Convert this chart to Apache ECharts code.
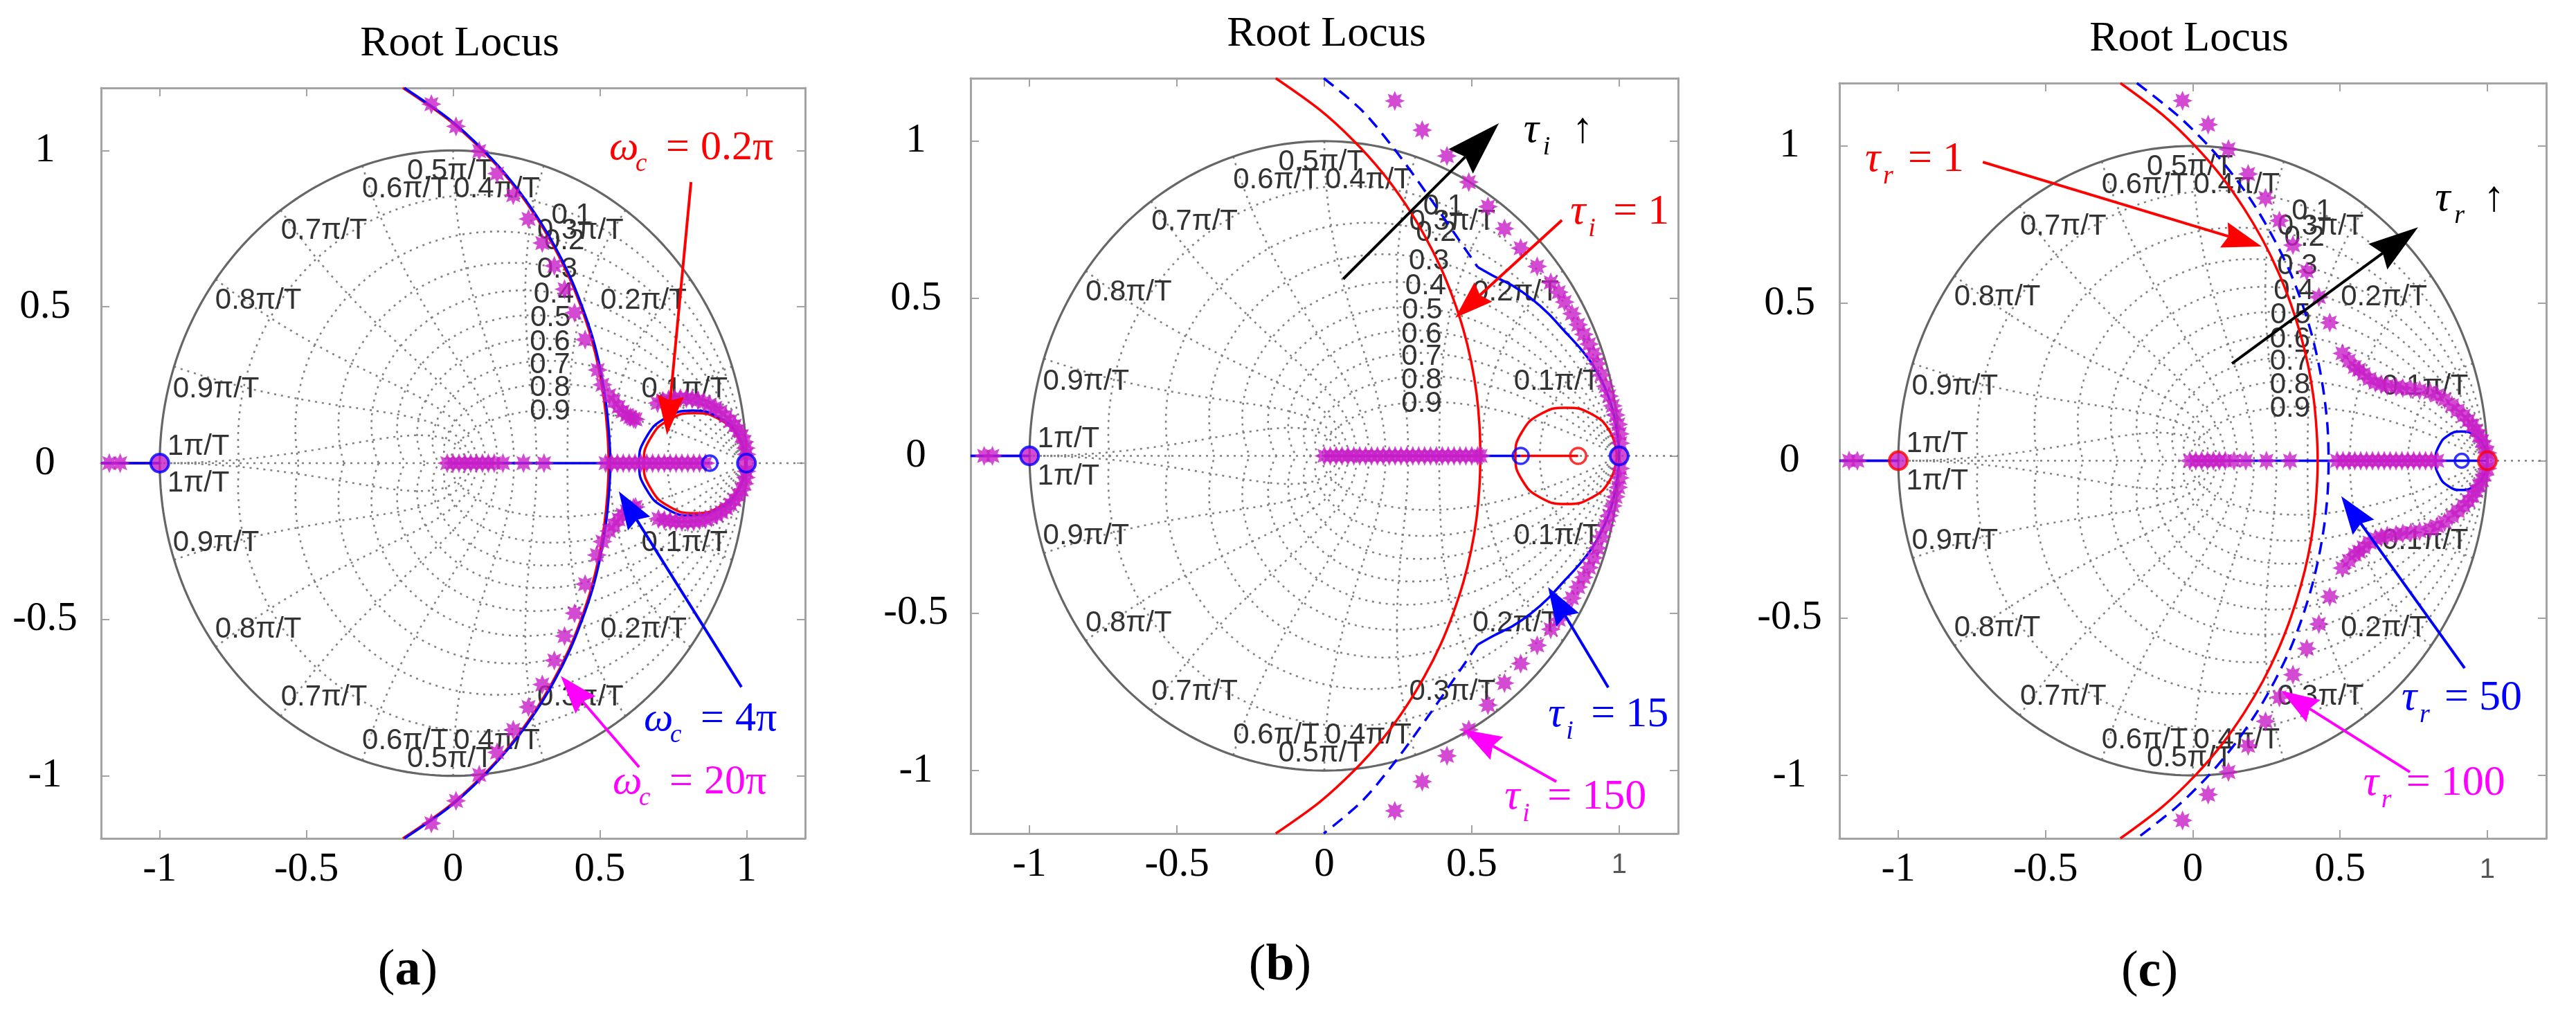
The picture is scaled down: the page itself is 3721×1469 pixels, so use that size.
<!DOCTYPE html>
<html>
<head>
<meta charset="utf-8">
<script src="https://cdn.jsdelivr.net/npm/echarts@6/dist/echarts.min.js"></script>
<style>
html,body{margin:0;padding:0;background:#ffffff;}
#chart{width:3721px;height:1469px;}
</style>
</head>
<body>
<div id="chart"></div>
<script>
// ================= DATA =================
const xTicks = [-1, -0.5, 0, 0.5, 1];
const yTicks = [-1, -0.5, 0, 0.5, 1];
const zetaVals = [0.1, 0.2, 0.3, 0.4, 0.5, 0.6, 0.7, 0.8, 0.9];
const wnVals = [0.1, 0.2, 0.3, 0.4, 0.5, 0.6, 0.7, 0.8, 0.9, 1.0];
const zetaLabels = ['0.1','0.2','0.3','0.4','0.5','0.6','0.7','0.8','0.9'];
const wnLabels = ['0.1π/T','0.2π/T','0.3π/T','0.4π/T','0.5π/T','0.6π/T','0.7π/T','0.8π/T','0.9π/T','1π/T'];
const panelTitles = ['Root Locus', 'Root Locus', 'Root Locus'];
const panelTags = ['a', 'b', 'c'];

// ---- panel (a) ----
const aRedArc = [[-0.171,1.2],[-0.018,1.1],[0.100,1.0],[0.196,0.9],[0.274,0.8],[0.339,0.7],[0.393,0.6],[0.436,0.5],[0.471,0.4],[0.497,0.3],[0.515,0.2],[0.526,0.1],[0.530,0],[0.526,-0.1],[0.515,-0.2],[0.497,-0.3],[0.471,-0.4],[0.436,-0.5],[0.393,-0.6],[0.339,-0.7],[0.274,-0.8],[0.196,-0.9],[0.100,-1.0],[-0.018,-1.1],[-0.171,-1.2]];
const aBlueArc = [[-0.166,1.2],[-0.013,1.1],[0.104,1.0],[0.200,0.9],[0.278,0.8],[0.343,0.7],[0.397,0.6],[0.440,0.5],[0.476,0.4],[0.502,0.3],[0.520,0.2],[0.531,0.1],[0.536,0],[0.531,-0.1],[0.520,-0.2],[0.502,-0.3],[0.476,-0.4],[0.440,-0.5],[0.397,-0.6],[0.343,-0.7],[0.278,-0.8],[0.200,-0.9],[0.104,-1.0],[-0.013,-1.1],[-0.166,-1.2]];
const aRedLoop = [[0.996,0],[0.973,0.080],[0.910,0.139],[0.823,0.160],[0.737,0.139],[0.673,0.080],[0.650,0],[0.673,-0.080],[0.737,-0.139],[0.823,-0.160],[0.910,-0.139],[0.973,-0.080],[0.996,0]];
const aBlueLoop = [[1.000,0],[0.975,0.084],[0.909,0.145],[0.817,0.168],[0.726,0.145],[0.659,0.084],[0.634,0],[0.659,-0.084],[0.726,-0.145],[0.817,-0.168],[0.909,-0.145],[0.975,-0.084],[1.000,0]];
const aRedAxis = [[[-1.2,0],[-1,0]]];
const aBlueAxis = [[[-1.2,0],[-1,0]], [[0,0],[0.875,0]]];
const aStarsFar = [[-1.172,0],[-1.135,0]];
const aStarsArc = [[-0.074,1.148],[0.010,1.077],[0.089,0.998],[0.150,0.926],[0.205,0.857],[0.257,0.781],[0.304,0.704],[0.345,0.631],[0.380,0.556],[0.414,0.481],[0.450,0.395],[0.493,0.298],[0.509,0.251],[0.532,0.217],[0.548,0.198],[0.564,0.180],[0.578,0.165],[0.592,0.154],[0.604,0.147],[0.615,0.142],[0.622,0.140],
  [-0.074,-1.152],[0.010,-1.080],[0.089,-0.997],[0.150,-0.925],[0.205,-0.853],[0.257,-0.780],[0.304,-0.708],[0.345,-0.631],[0.380,-0.553],[0.414,-0.480],[0.450,-0.387],[0.490,-0.294],[0.509,-0.251],[0.532,-0.217],[0.548,-0.198],[0.564,-0.180],[0.578,-0.165],[0.592,-0.154],[0.604,-0.147],[0.615,-0.142],[0.622,-0.140]];
const aStarsAxis = [[-0.02,0],[0,0],[0.02,0],[0.04,0],[0.06,0],[0.08,0],[0.10,0],[0.12,0],[0.14,0],[0.17,0],[0.24,0],[0.31,0],
  [0.52,0],[0.54,0],[0.56,0],[0.58,0],[0.60,0],[0.62,0],[0.64,0],[0.66,0],[0.68,0],[0.70,0],[0.72,0],[0.74,0],[0.76,0],[0.78,0],[0.80,0],[0.82,0],[0.84,0],[0.86,0]];
const aStarsLoop = [[0.697,0.192],[0.715,0.199],[0.735,0.204],[0.755,0.207],[0.775,0.208],[0.795,0.207],[0.815,0.205],[0.835,0.201],[0.855,0.195],[0.875,0.187],[0.894,0.177],[0.912,0.165],[0.930,0.150],[0.946,0.135],[0.960,0.120],[0.973,0.104],[0.984,0.087],[0.993,0.068],[0.998,0.048],[1.0,0.028],
  [0.700,-0.178],[0.720,-0.182],[0.740,-0.185],[0.760,-0.187],[0.780,-0.188],[0.800,-0.188],[0.820,-0.187],[0.840,-0.184],[0.860,-0.180],[0.880,-0.174],[0.898,-0.166],[0.915,-0.157],[0.931,-0.145],[0.946,-0.132],[0.960,-0.118],[0.973,-0.102],[0.984,-0.085],[0.993,-0.066],[0.998,-0.046],[1.0,-0.026]];
const aPoles = [[-1,0],[1,0]];
const aZerosBlue = [[0.875,0]];

// ---- panel (b) ----
const bRedArc = [[-0.165,1.2],[-0.016,1.1],[0.101,1.0],[0.197,0.9],[0.275,0.8],[0.340,0.7],[0.394,0.6],[0.437,0.5],[0.472,0.4],[0.498,0.3],[0.516,0.2],[0.526,0.1],[0.529,0],[0.526,-0.1],[0.516,-0.2],[0.498,-0.3],[0.472,-0.4],[0.437,-0.5],[0.394,-0.6],[0.340,-0.7],[0.275,-0.8],[0.197,-0.9],[0.101,-1.0],[-0.016,-1.1],[-0.165,-1.2]];
const bRedLoop = [[0.992,0],[0.969,0.077],[0.906,0.133],[0.820,0.153],[0.734,0.133],[0.671,0.077],[0.648,0],[0.671,-0.077],[0.734,-0.133],[0.820,-0.153],[0.906,-0.133],[0.969,-0.077],[0.992,0]];
const bRedAxis = [[[-1.2,0],[-1,0]], [[0.666,0],[0.861,0]]];
const bBlueAxis = [[[-1.2,0],[-1,0]], [[0,0],[0.666,0]]];
const bBlueSolid = [[0.520,0.600],[0.573,0.572],[0.640,0.540],[0.703,0.499],[0.760,0.452],[0.815,0.396],[0.865,0.345],[0.908,0.293],[0.940,0.240],[0.963,0.190],[0.980,0.140],[0.991,0.087],[0.998,0.040],[1.0,0],[0.998,-0.040],[0.991,-0.087],[0.980,-0.140],[0.963,-0.190],[0.940,-0.240],[0.908,-0.293],[0.865,-0.345],[0.815,-0.396],[0.760,-0.452],[0.703,-0.499],[0.640,-0.540],[0.573,-0.572],[0.520,-0.600]];
const bBlueDashUpper = [[-0.002,1.2],[0.128,1.097],[0.239,0.973],[0.351,0.829],[0.443,0.705],[0.520,0.600]];
const bBlueDashLower = [[0.520,-0.600],[0.443,-0.705],[0.351,-0.829],[0.239,-0.973],[0.128,-1.097],[-0.002,-1.2]];
const bStarsFar = [[-1.154,0],[-1.126,0]];
const bStarsArc = [[0.239,1.128],[0.332,1.035],[0.416,0.953],[0.490,0.870],[0.555,0.792],[0.611,0.722],[0.666,0.660],[0.722,0.602],[0.768,0.551],[0.795,0.520],[0.815,0.489],[0.840,0.452],[0.861,0.417],[0.880,0.386],[0.898,0.355],[0.913,0.324],[0.926,0.293],[0.940,0.257],[0.954,0.221],[0.966,0.190],[0.978,0.159],[0.988,0.130],[0.997,0.100],[1.002,0.070],[1.004,0.040],
  [0.239,-1.128],[0.332,-1.035],[0.416,-0.953],[0.490,-0.870],[0.555,-0.792],[0.611,-0.722],[0.666,-0.660],[0.722,-0.602],[0.768,-0.551],[0.795,-0.520],[0.815,-0.489],[0.840,-0.452],[0.861,-0.417],[0.880,-0.386],[0.898,-0.355],[0.913,-0.324],[0.926,-0.293],[0.940,-0.257],[0.954,-0.221],[0.966,-0.190],[0.978,-0.159],[0.988,-0.130],[0.997,-0.100],[1.002,-0.070],[1.004,-0.040]];
const bStarsAxis = [[0,0],[0.02,0],[0.04,0],[0.06,0],[0.08,0],[0.10,0],[0.12,0],[0.14,0],[0.16,0],[0.18,0],[0.20,0],[0.22,0],[0.24,0],[0.26,0],[0.28,0],[0.30,0],[0.32,0],[0.34,0],[0.36,0],[0.38,0],[0.40,0],[0.42,0],[0.44,0],[0.46,0],[0.48,0],[0.50,0],[0.52,0],[0.53,0]];
const bPoles = [[-1,0],[1,0]];
const bZerosBlue = [[0.666,0]];
const bZerosRed = [[0.861,0]];

// ---- panel (c) ----
const cRedArc = [[-0.246,1.2],[-0.104,1.1],[0.008,1.0],[0.100,0.9],[0.175,0.8],[0.238,0.7],[0.290,0.6],[0.332,0.5],[0.366,0.4],[0.392,0.3],[0.410,0.2],[0.420,0.1],[0.424,0],[0.420,-0.1],[0.410,-0.2],[0.392,-0.3],[0.366,-0.4],[0.332,-0.5],[0.290,-0.6],[0.238,-0.7],[0.175,-0.8],[0.100,-0.9],[0.008,-1.0],[-0.104,-1.1],[-0.246,-1.2]];
const cBlueDash = [[-0.190,1.2],[-0.055,1.1],[0.054,1.0],[0.143,0.9],[0.217,0.8],[0.278,0.7],[0.330,0.6],[0.371,0.5],[0.404,0.4],[0.429,0.3],[0.447,0.2],[0.458,0.1],[0.461,0],[0.458,-0.1],[0.447,-0.2],[0.429,-0.3],[0.404,-0.4],[0.371,-0.5],[0.330,-0.6],[0.278,-0.7],[0.217,-0.8],[0.143,-0.9],[0.054,-1.0],[-0.055,-1.1],[-0.190,-1.2]];
const cBlueLoop = [[1.000,0],[0.988,0.047],[0.956,0.081],[0.912,0.093],[0.868,0.081],[0.836,0.047],[0.824,0],[0.836,-0.047],[0.868,-0.081],[0.912,-0.093],[0.956,-0.081],[0.988,-0.047],[1.000,0]];
const cRedAxis = [[[-1.2,0],[-1,0]]];
const cBlueAxis = [[[-1.2,0],[-1,0]], [[0,0],[1,0]]];
const cStarsFar = [[-1.167,0],[-1.139,0]];
const cStarsArc = [[-0.035,1.144],[0.052,1.068],[0.121,0.990],[0.188,0.911],[0.247,0.835],[0.294,0.763],[0.340,0.685],[0.387,0.602],[0.428,0.520],[0.465,0.439],
  [0.465,-0.432],[0.428,-0.519],[0.387,-0.597],[0.340,-0.680],[0.294,-0.752],[0.247,-0.828],[0.188,-0.906],[0.121,-0.989],[0.052,-1.061],[-0.035,-1.143]];
const cStarsBranch = [[0.508,0.341],[0.530,0.318],[0.550,0.298],[0.564,0.289],[0.580,0.275],[0.600,0.260],[0.620,0.248],[0.640,0.243],[0.660,0.238],[0.690,0.235],[0.713,0.231],[0.740,0.228],[0.770,0.224],[0.806,0.217],[0.830,0.208],[0.855,0.195],[0.880,0.176],[0.900,0.160],[0.920,0.143],[0.936,0.128],[0.950,0.112],[0.962,0.096],[0.972,0.080],[0.982,0.062],[0.990,0.045],[1.000,0.025],
  [0.508,-0.341],[0.530,-0.318],[0.550,-0.298],[0.564,-0.289],[0.580,-0.275],[0.600,-0.260],[0.620,-0.248],[0.640,-0.243],[0.660,-0.238],[0.690,-0.235],[0.713,-0.231],[0.740,-0.228],[0.770,-0.224],[0.806,-0.217],[0.830,-0.208],[0.855,-0.195],[0.880,-0.176],[0.900,-0.160],[0.920,-0.143],[0.936,-0.128],[0.950,-0.112],[0.962,-0.096],[0.972,-0.080],[0.982,-0.062],[0.990,-0.045],[1.000,-0.025]];
const cStarsAxis = [[-0.01,0],[0.01,0],[0.03,0],[0.05,0],[0.07,0],[0.09,0],[0.11,0],[0.14,0],[0.18,0],[0.25,0],[0.33,0],
  [0.49,0],[0.51,0],[0.53,0],[0.55,0],[0.57,0],[0.59,0],[0.61,0],[0.63,0],[0.65,0],[0.67,0],[0.69,0],[0.71,0],[0.73,0],[0.75,0],[0.77,0],[0.79,0],[0.81,0],[0.83,0]];
const cPoles = [[-1,0],[1,0]];
const cZerosBlue = [[0.913,0]];

// ---- annotation texts ----
const notesA = [
  {sym:'ω', sub:'c', eq:'=', val:'0.2π', color:'#ff0000'},
  {sym:'ω', sub:'c', eq:'=', val:'4π',   color:'#0000ff'},
  {sym:'ω', sub:'c', eq:'=', val:'20π',  color:'#ff00ff'}];
const notesB = [
  {sym:'τ', sub:'i', eq:'',  val:'↑',   color:'#000000'},
  {sym:'τ', sub:'i', eq:'=', val:'1',   color:'#ff0000'},
  {sym:'τ', sub:'i', eq:'=', val:'15',  color:'#0000ff'},
  {sym:'τ', sub:'i', eq:'=', val:'150', color:'#ff00ff'}];
const notesC = [
  {sym:'τ', sub:'r', eq:'=', val:'1',   color:'#ff0000'},
  {sym:'τ', sub:'r', eq:'',  val:'↑',   color:'#000000'},
  {sym:'τ', sub:'r', eq:'=', val:'50',  color:'#0000ff'},
  {sym:'τ', sub:'r', eq:'=', val:'100', color:'#ff00ff'}];

// ================= LAYOUT (positions / styles) =================
const L = {
  grids: [
    {left:146,  top:127, width:1017, height:1084, yMargin:81},
    {left:1402, top:113, width:1022, height:1091, yMargin:79},
    {left:2657, top:120, width:1021, height:1091, yMargin:72}],
  titles: [[664,64],[1916,50],[3162,57]],
  tags: [[589,1403],[1849,1396],[3105,1405]],
  zetaPos: [[0.404,0.792],[0.379,0.709],[0.355,0.618],[0.343,0.539],[0.332,0.463],[0.330,0.386],[0.330,0.314],[0.330,0.241],[0.330,0.166]],
  wnPosUp: [[0.789,0.236],[0.649,0.519],[0.434,0.744],[0.149,0.875],[-0.010,0.933],[-0.163,0.875],[-0.440,0.744],[-0.664,0.519],[-0.808,0.236],[-0.868,0.052]],
  wnPosDn: [[0.789,-0.255],[0.649,-0.532],[0.434,-0.749],[0.149,-0.888],[-0.010,-0.946],[-0.163,-0.888],[-0.440,-0.749],[-0.664,-0.532],[-0.808,-0.255],[-0.868,-0.066]],
  notePosA: [[0.532,1.007],[0.650,-0.819],[0.544,-1.021]],
  notePosB: [[0.676,1.033],[0.834,0.773],[0.759,-0.824],[0.611,-1.086]],
  notePosC: [[-1.113,0.956],[0.822,0.830],[0.709,-0.756],[0.579,-1.026]],
  arrowsA: [
    {from:[0.811,0.899], to:[0.729,0.090], color:'#ff0000', len:57, w:38},
    {from:[0.983,-0.716], to:[0.565,-0.090], color:'#0000ff', len:55, w:38},
    {from:[0.634,-0.972], to:[0.367,-0.681], color:'#ff00ff', len:55, w:38}],
  arrowsB: [
    {from:[0.064,0.562], to:[0.592,1.057], color:'#000000', len:78, w:50},
    {from:[0.806,0.749], to:[0.444,0.439], color:'#ff0000', len:55, w:38},
    {from:[0.963,-0.736], to:[0.759,-0.417], color:'#0000ff', len:55, w:38},
    {from:[0.787,-1.035], to:[0.472,-0.870], color:'#ff00ff', len:55, w:38}],
  arrowsC: [
    {from:[-0.713,0.949], to:[0.234,0.681], color:'#ff0000', len:57, w:38},
    {from:[0.133,0.309], to:[0.765,0.742], color:'#000000', len:72, w:46},
    {from:[0.923,-0.659], to:[0.504,-0.113], color:'#0000ff', len:55, w:38},
    {from:[0.737,-0.989], to:[0.300,-0.731], color:'#ff00ff', len:55, w:38}]
};
const FRAME = '#a3a3a3';
const SERIF = '"Liberation Serif","Times New Roman",serif';
const SANS = '"Liberation Sans",Arial,sans-serif';
const STAR_COLOR = '#c81ec8';
const OMEGA_OFFS = [0, 38, 82, 132];
const TAU_OFFS = [0, 26, 62, 112];
const UP_OFFS = [0, 28, 0, 70];
const LW = 3.5;

function starPath() {
  let d = '';
  for (let k = 0; k < 16; k++) {
    const r = (k % 2) ? 0.55 : 1;
    const a = k * Math.PI / 8 - Math.PI / 2;
    d += (k ? 'L' : 'M') + (r * Math.cos(a)).toFixed(3) + ' ' + (r * Math.sin(a)).toFixed(3) + ' ';
  }
  return 'path://' + d + 'Z';
}
const STAR = starPath();

// z-plane grid curves (zgrid definition)
function zetaCurve(z, sg) {
  const pts = [], q = Math.sqrt(1 - z * z), N = 160;
  for (let k = 0; k <= N; k++) {
    const w = Math.PI / q * k / N, r = Math.exp(-z * w), a = w * q;
    pts.push([r * Math.cos(a), sg * r * Math.sin(a)]);
  }
  return pts;
}
function wnCurve(wn, sg) {
  const pts = [], N = 90, W = wn * Math.PI;
  for (let k = 0; k <= N; k++) {
    const z = k / N, r = Math.exp(-z * W), a = W * Math.sqrt(1 - z * z);
    pts.push([r * Math.cos(a), sg * r * Math.sin(a)]);
  }
  return pts;
}

function line(gi, data, color, width, type, z, smooth) {
  return {type:'line', xAxisIndex:2*gi, yAxisIndex:2*gi, data:data, symbol:'none', showSymbol:false,
    smooth: smooth || false, lineStyle:{color:color, width:width, type:type || 'solid'},
    silent:true, animation:false, z: z || 5};
}
function scatter(gi, data, symbol, size, itemStyle, z) {
  return {type:'scatter', xAxisIndex:2*gi, yAxisIndex:2*gi, data:data, symbol:symbol, symbolSize:size,
    itemStyle:itemStyle, silent:true, animation:false, z: z || 8};
}
function stars(gi, data) { return scatter(gi, data, STAR, 29, {color: STAR_COLOR}, 9); }
function poles(gi, data, edge) { return scatter(gi, data, 'circle', 26, {color: STAR_COLOR, borderColor: edge, borderWidth: 4}, 11); }
function zeros(gi, data, edge, size) { return scatter(gi, data, 'circle', size, {color:'rgba(0,0,0,0)', borderColor: edge, borderWidth: 3.5}, 11); }

function zgridSeries(gi) {
  const s = [];
  const dot = [3, 7];
  zetaVals.forEach(z => [1, -1].forEach(sg => s.push(line(gi, zetaCurve(z, sg), '#808080', 2.6, dot, 2))));
  wnVals.forEach(w => [1, -1].forEach(sg => s.push(line(gi, wnCurve(w, sg), '#808080', 2.6, dot, 2))));
  s.push(line(gi, [[-1.2, 0], [1.2, 0]], '#808080', 2.6, dot, 2));
  [1, -1].forEach(sg => s.push(line(gi, zetaCurve(0, sg), '#666666', 3.2, 'solid', 3)));
  const items = [], texts = [];
  zetaLabels.forEach((t, i) => { items.push(L.zetaPos[i]); texts.push(t); });
  wnLabels.forEach((t, i) => { items.push(L.wnPosUp[i]); texts.push(t); items.push(L.wnPosDn[i]); texts.push(t); });
  s.push({type:'custom', xAxisIndex:2*gi, yAxisIndex:2*gi, silent:true, animation:false, z:4, clip:false,
    data: items, encode:{x:0, y:1},
    renderItem: function (params, api) {
      const p = api.coord([api.value(0), api.value(1)]);
      return {type:'text', x:p[0], y:p[1], style:{text: texts[params.dataIndex],
        font: '42px ' + SANS, fill:'#333333',
        align:'center', verticalAlign:'middle', textAlign:'center', textVerticalAlign:'middle'}};
    }});
  return s;
}

function arrowSeries(gi, a) {
  return {type:'custom', xAxisIndex:2*gi, yAxisIndex:2*gi, silent:true, animation:false, z:30, clip:false,
    data:[[a.from[0], a.from[1], a.to[0], a.to[1]]], encode:{x:[0,2], y:[1,3]},
    renderItem: function (params, api) {
      const p1 = api.coord([api.value(0), api.value(1)]);
      const p2 = api.coord([api.value(2), api.value(3)]);
      const dx = p2[0]-p1[0], dy = p2[1]-p1[1], Ln = Math.hypot(dx, dy);
      const ux = dx/Ln, uy = dy/Ln, nx = -uy, ny = ux;
      const bx = p2[0]-ux*a.len, by = p2[1]-uy*a.len, nt = a.len*0.12;
      return {type:'group', children:[
        {type:'line', shape:{x1:p1[0], y1:p1[1], x2:bx+ux*nt, y2:by+uy*nt}, style:{stroke:a.color, lineWidth:4}},
        {type:'polygon', shape:{points:[[p2[0],p2[1]],[bx+nx*a.w/2, by+ny*a.w/2],[bx+ux*nt, by+uy*nt],[bx-nx*a.w/2, by-ny*a.w/2]]}, style:{fill:a.color}}
      ]};
    }};
}

function noteSeries(gi, pos, note, fs, offs) {
  return {type:'custom', xAxisIndex:2*gi, yAxisIndex:2*gi, silent:true, animation:false, z:31, clip:false,
    data:[pos], encode:{x:0, y:1},
    renderItem: function (params, api) {
      const p = api.coord([api.value(0), api.value(1)]);
      const sub = Math.round(fs * 0.62);
      const mk = (t, dx, dy, font) => ({type:'text', x:p[0]+dx, y:p[1]+dy,
        style:{text:t, font:font, fill:note.color, align:'left', verticalAlign:'middle', textAlign:'left', textVerticalAlign:'middle'}});
      const ch = [mk(note.sym, offs[0], 0, 'italic ' + fs + 'px ' + SERIF),
                  mk(note.sub, offs[1], Math.round(fs*0.38), 'italic ' + sub + 'px ' + SERIF)];
      if (note.eq) ch.push(mk(note.eq, offs[2], 0, fs + 'px ' + SERIF));
      ch.push(mk(note.val, offs[3], 0, fs + 'px ' + SERIF));
      return {type:'group', children: ch};
    }};
}

// ================= BUILD =================
const grids = [], xAxes = [], yAxes = [];
L.grids.forEach((g, i) => {
  grids.push({left:g.left, top:g.top, width:g.width, height:g.height, containLabel:false});
  const base = (ticks) => ({type:'value', gridIndex:i, min:-1.2, max:1.2, splitLine:{show:false},
    axisLine:{show:true, onZero:false, lineStyle:{color:FRAME, width:3}},
    axisTick:{show:true, inside:true, length:12, lineStyle:{color:FRAME, width:2}, customValues:ticks}});
  xAxes.push(Object.assign(base(xTicks), {position:'bottom',
    axisLabel:{show:true, customValues:xTicks, margin:16, fontFamily:SERIF, fontSize:59, color:'#000',
      formatter: v => (i > 0 && v === 1) ? '{s|1}' : String(v),
      rich:{s:{fontFamily:SANS, fontSize:40, color:'#555', padding:[10,0,0,0]}}}}));
  xAxes.push(Object.assign(base(xTicks), {position:'top', axisLabel:{show:false}}));
  yAxes.push(Object.assign(base(yTicks), {position:'left',
    axisLabel:{show:true, customValues:yTicks, margin:g.yMargin, align:'center', fontFamily:SERIF, fontSize:59, color:'#000',
      formatter: v => String(v)}}));
  yAxes.push(Object.assign(base(yTicks), {position:'right', axisLabel:{show:false}}));
});

let series = [];
[0,1,2].forEach(gi => { series = series.concat(zgridSeries(gi)); });

// panel a
aRedAxis.forEach(seg => series.push(line(0, seg, '#ff0000', LW, 'solid', 6)));
aBlueAxis.forEach(seg => series.push(line(0, seg, '#0000ff', LW, 'solid', 6)));
series.push(line(0, aRedArc, '#ff0000', LW, 'solid', 6, 0.3));
series.push(line(0, aBlueArc, '#0000ff', LW, 'solid', 7, 0.3));
series.push(line(0, aRedLoop, '#ff0000', LW, 'solid', 6, 0.5));
series.push(line(0, aBlueLoop, '#0000ff', LW, 'solid', 7, 0.5));
series.push(stars(0, aStarsFar), stars(0, aStarsArc), stars(0, aStarsAxis), stars(0, aStarsLoop));
series.push(poles(0, aPoles, '#0000ff'), zeros(0, aZerosBlue, '#0000ff', 22));

// panel b
bRedAxis.forEach(seg => series.push(line(1, seg, '#ff0000', LW, 'solid', 6)));
bBlueAxis.forEach(seg => series.push(line(1, seg, '#0000ff', LW, 'solid', 6)));
series.push(line(1, bRedArc, '#ff0000', LW, 'solid', 6, 0.3));
series.push(line(1, bRedLoop, '#ff0000', LW, 'solid', 6, 0.5));
series.push(line(1, bBlueSolid, '#0000ff', LW, 'solid', 7, 0.3));
series.push(line(1, bBlueDashUpper, '#0000ff', LW, [18,11], 7, 0.3));
series.push(line(1, bBlueDashLower, '#0000ff', LW, [18,11], 7, 0.3));
series.push(stars(1, bStarsFar), stars(1, bStarsArc), stars(1, bStarsAxis));
series.push(poles(1, bPoles, '#0000ff'), zeros(1, bZerosBlue, '#0000ff', 23), zeros(1, bZerosRed, '#ff0000', 23));

// panel c
cRedAxis.forEach(seg => series.push(line(2, seg, '#ff0000', LW, 'solid', 6)));
cBlueAxis.forEach(seg => series.push(line(2, seg, '#0000ff', LW, 'solid', 6)));
series.push(line(2, cRedArc, '#ff0000', LW, 'solid', 6, 0.3));
series.push(line(2, cBlueDash, '#0000ff', LW, [18,11], 7, 0.3));
series.push(line(2, cBlueLoop, '#0000ff', LW, 'solid', 7, 0.5));
series.push(stars(2, cStarsFar), stars(2, cStarsArc), stars(2, cStarsBranch), stars(2, cStarsAxis));
series.push(poles(2, cPoles, '#ff0000'), zeros(2, cZerosBlue, '#0000ff', 20));

// annotations
L.arrowsA.forEach(a => series.push(arrowSeries(0, a)));
L.arrowsB.forEach(a => series.push(arrowSeries(1, a)));
L.arrowsC.forEach(a => series.push(arrowSeries(2, a)));
notesA.forEach((n, i) => series.push(noteSeries(0, L.notePosA[i], n, 60, OMEGA_OFFS)));
notesB.forEach((n, i) => series.push(noteSeries(1, L.notePosB[i], n, 62, n.eq ? TAU_OFFS : UP_OFFS)));
notesC.forEach((n, i) => series.push(noteSeries(2, L.notePosC[i], n, 62, n.eq ? TAU_OFFS : UP_OFFS)));

const graphics = [];
panelTitles.forEach((t, i) => graphics.push({type:'text', x:L.titles[i][0], y:L.titles[i][1], silent:true,
  style:{text:t, font:'62px ' + SERIF, fill:'#000', align:'center', verticalAlign:'middle', textAlign:'center', textVerticalAlign:'middle'}}));
panelTags.forEach((t, i) => graphics.push({type:'text', x:L.tags[i][0], y:L.tags[i][1], silent:true,
  style:{text:'({b|' + t + '})', font:'74px ' + SERIF, fill:'#000', align:'center', verticalAlign:'middle', textAlign:'center', textVerticalAlign:'middle',
    rich:{b:{fontWeight:'bold', fontSize:74, fontFamily:'Liberation Serif'}}}}));

const chart = echarts.init(document.getElementById('chart'), null, {renderer:'canvas'});
chart.setOption({
  backgroundColor:'#ffffff',
  animation:false,
  grid: grids,
  xAxis: xAxes,
  yAxis: yAxes,
  series: series,
  graphic: graphics
});
</script>
</body>
</html>
